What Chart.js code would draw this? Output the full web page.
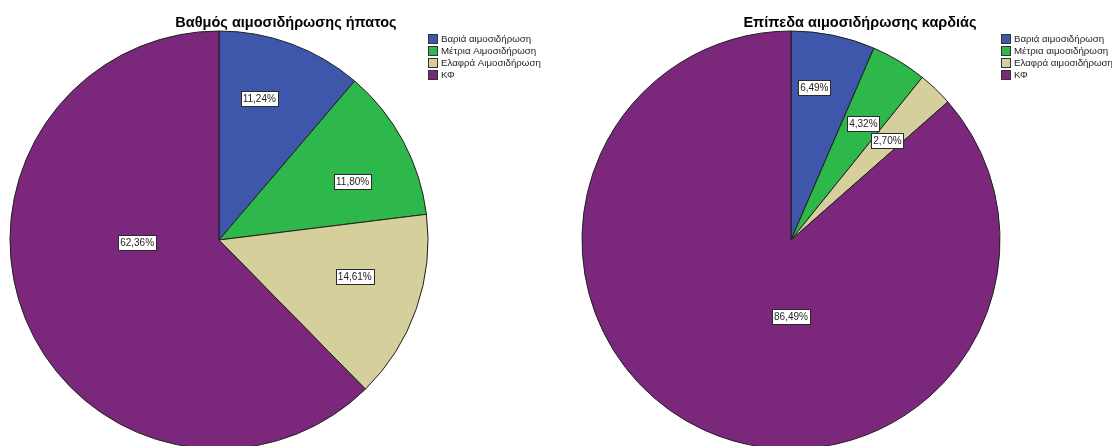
<!DOCTYPE html>
<html lang="el">
<head>
<meta charset="utf-8">
<title>Αιμοσιδήρωση ήπατος και καρδιάς</title>
<script src="https://cdn.jsdelivr.net/npm/chart.js@4.4.1/dist/chart.umd.min.js"></script>
<style>
  html, body { margin: 0; padding: 0; background: #ffffff; overflow: hidden; }
  #wrap { position: relative; width: 1112px; height: 446px; overflow: hidden; }
  .panel { position: absolute; top: 0; width: 556px; height: 460px; }
  #liverPanel { left: 0; }
  #heartPanel { left: 556px; }
</style>
</head>
<body>
<div id="wrap">
  <div class="panel" id="liverPanel"><canvas id="liverChart" width="556" height="460"></canvas></div>
  <div class="panel" id="heartPanel"><canvas id="heartChart" width="556" height="460"></canvas></div>
</div>
<script>
// ---- data ----
const liverTitle = 'Βαθμός αιμοσιδήρωσης ήπατος';
const liverCategories = ['Βαριά αιμοσιδήρωση', 'Μέτρια Αιμοσιδήρωση', 'Ελαφρά Αιμοσιδήρωση', 'ΚΦ'];
const liverPercent = [11.24, 11.80, 14.61, 62.36];

const heartTitle = 'Επίπεδα αιμοσιδήρωσης καρδιάς';
const heartCategories = ['Βαριά αιμοσιδήρωση', 'Μέτρια αιμοσιδήρωση', 'Ελαφρά αιμοσιδήρωση', 'ΚΦ'];
const heartPercent = [6.49, 4.32, 2.70, 86.49];

const sliceColors = ['#3E57AB', '#2EB84B', '#D4CF9B', '#7B287C'];
const FONT = "'Liberation Sans', Arial, sans-serif";

function formatPercent(v) {
  return v.toFixed(2).replace('.', ',') + '%';
}

// Title, legend and boxed percentage labels drawn on top of the pie.
const pieDecorations = {
  id: 'pieDecorations',
  afterDatasetsDraw(chart, args, opts) {
    const ctx = chart.ctx;
    const meta = chart.getDatasetMeta(0);
    const values = chart.data.datasets[0].data;
    const colors = chart.data.datasets[0].backgroundColor;
    const first = meta.data[0];
    const cx = first.x, cy = first.y, r = first.outerRadius;

    ctx.save();

    // percentage labels, placed in polar terms (degrees clockwise from top, fraction of radius)
    ctx.font = '10px ' + FONT;
    ctx.textAlign = 'center';
    ctx.textBaseline = 'middle';
    meta.data.forEach((arc, i) => {
      const [deg, frac] = opts.labelAnchors[i];
      const a = (deg - 90) * Math.PI / 180;
      const x = cx + Math.cos(a) * r * frac;
      const y = cy + Math.sin(a) * r * frac;
      const text = formatPercent(values[i]);
      const w = Math.round(ctx.measureText(text).width + 4);
      const h = 15;
      const bx = Math.round(x - w / 2) + 0.5;
      const by = Math.round(y - h / 2) + 0.5;
      ctx.fillStyle = '#ffffff';
      ctx.fillRect(bx, by, w, h);
      ctx.strokeStyle = '#2a2a2a';
      ctx.lineWidth = 1;
      ctx.strokeRect(bx, by, w, h);
      ctx.fillStyle = '#1e1e1e';
      ctx.fillText(text, x, by + h / 2 + 0.5);
    });

    // title
    ctx.font = 'bold 14.5px ' + FONT;
    ctx.textAlign = 'center';
    ctx.textBaseline = 'alphabetic';
    ctx.fillStyle = '#000000';
    ctx.fillText(opts.title, opts.titleX, 27);

    // legend
    ctx.font = '9.7px ' + FONT;
    ctx.textAlign = 'left';
    ctx.textBaseline = 'middle';
    chart.data.labels.forEach((lab, i) => {
      const yTop = 33.5 + i * 12.2;
      ctx.fillStyle = colors[i];
      ctx.fillRect(opts.legendX + 0.5, Math.round(yTop) + 0.5, 9, 9);
      ctx.strokeStyle = '#333333';
      ctx.lineWidth = 1;
      ctx.strokeRect(opts.legendX + 0.5, Math.round(yTop) + 0.5, 9, 9);
      ctx.fillStyle = '#1e1e1e';
      ctx.fillText(lab, opts.legendX + 13, Math.round(yTop) + 5.5);
    });

    ctx.restore();
  }
};

function makePie(canvasId, title, categories, values, layoutPad, deco) {
  return new Chart(document.getElementById(canvasId), {
    type: 'pie',
    data: {
      labels: categories,
      datasets: [{
        data: values,
        backgroundColor: sliceColors,
        borderColor: '#1f1f1f',
        borderWidth: 1,
        hoverOffset: 0
      }]
    },
    options: {
      responsive: false,
      animation: false,
      events: [],
      layout: { padding: layoutPad },
      plugins: {
        legend: { display: false },
        title: { display: false },
        tooltip: { enabled: false },
        pieDecorations: Object.assign({ title: title }, deco)
      }
    },
    plugins: [pieDecorations]
  });
}

makePie('liverChart', liverTitle, liverCategories, liverPercent,
  { left: 9.5, top: 30.5, right: 127.5, bottom: 10.5 },
  {
    titleX: 286,
    legendX: 428,
    labelAnchors: [[15.9, 0.703], [66.5, 0.697], [105.1, 0.673], [268.6, 0.392]]
  });

makePie('heartChart', heartTitle, heartCategories, heartPercent,
  { left: 25.5, top: 30.5, right: 111.5, bottom: 10.5 },
  {
    titleX: 304,
    legendX: 445,
    labelAnchors: [[8.7, 0.738], [31.9, 0.655], [44.1, 0.663], [180, 0.365]]
  });
</script>
</body>
</html>
